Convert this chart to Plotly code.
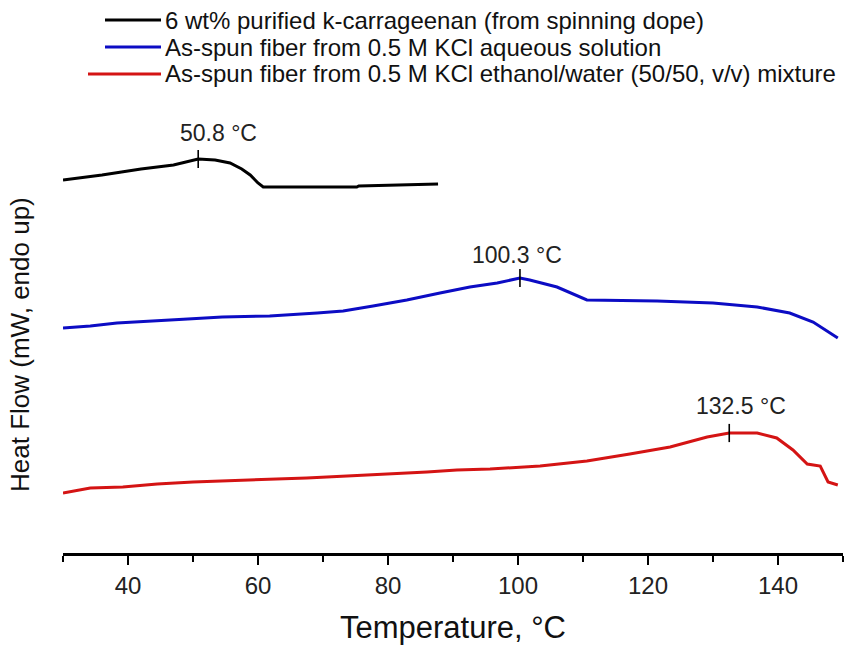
import plotly.graph_objects as go

# DSC heating scans (temperature in °C, heat flow in mW, endo up, curves offset)
temp_dope = [30, 36, 42, 47, 50.8, 53.4, 55.7, 57.5, 58.8, 60.0, 60.8, 62, 75.2, 75.5, 87.7]
hf_dope = [3.73, 3.78, 3.84, 3.88, 3.94, 3.93, 3.90, 3.84, 3.78, 3.70, 3.66, 3.66, 3.66, 3.67, 3.69]

temp_aq = [30, 34.2, 38.3, 42.9, 49.2, 54.5, 61.8, 69.1, 73.1, 77.7, 82.9, 88, 92.6, 96.8,
           100.3, 101.8, 106, 110.6, 121.4, 130, 136.8, 141.8, 145.4, 149.2]
hf_aq = [2.25, 2.27, 2.30, 2.32, 2.34, 2.36, 2.37, 2.40, 2.42, 2.47, 2.53, 2.60, 2.66, 2.70,
         2.75, 2.73, 2.66, 2.53, 2.52, 2.50, 2.46, 2.40, 2.31, 2.15]

temp_eth = [30, 34.2, 39.2, 44.5, 50, 59.2, 67.5, 73.7, 80.3, 86, 90.6, 95.7, 103.4, 110.6,
            117.2, 123.4, 129.1, 132.5, 136.8, 139.8, 142.3, 144.5, 146.5, 147.7, 149.2]
hf_eth = [0.60, 0.65, 0.66, 0.69, 0.71, 0.73, 0.75, 0.77, 0.79, 0.81, 0.83, 0.84, 0.87, 0.92,
          0.99, 1.06, 1.16, 1.20, 1.20, 1.15, 1.03, 0.89, 0.87, 0.71, 0.68]

series_names = [
    "6 wt% purified k-carrageenan (from spinning dope)",
    "As-spun fiber from 0.5 M KCl aqueous solution",
    "As-spun fiber from 0.5 M KCl ethanol/water (50/50, v/v) mixture",
]
series_colors = ["#000000", "#0c0cc4", "#d41414"]

# peak temperatures marked on each curve
peak_temps = [50.8, 100.3, 132.5]
peak_labels = ["50.8 °C", "100.3 °C", "132.5 °C"]

x_ticks = [40, 60, 80, 100, 120, 140]

curves = [(temp_dope, hf_dope), (temp_aq, hf_aq), (temp_eth, hf_eth)]

FONT = "Liberation Sans, Arial, sans-serif"

# plot area geometry (pixels)
W, H = 849, 645
L, R, T, B = 63, 6, 100, 92
PW, PH = W - L - R, H - T - B


def px(xp):
    return (xp - L) / PW


def py(yp):
    return (H - B - yp) / PH


fig = go.Figure()

for (tx, hy), name, col in zip(curves, series_names, series_colors):
    fig.add_trace(go.Scatter(x=tx, y=hy, mode="lines", name=name,
                             line=dict(color=col, width=3), showlegend=False))

# peak markers with labels
label_shift = [(20, 26), (-3, 23), (12, 27)]
for (tx, hy), pt, lab, (dx, dy) in zip(curves, peak_temps, peak_labels, label_shift):
    pv = hy[tx.index(pt)]
    fig.add_trace(go.Scatter(x=[pt], y=[pv], mode="markers", showlegend=False,
                             marker=dict(symbol="line-ns", size=13,
                                         line=dict(color="#000000", width=1.6))))
    fig.add_annotation(x=pt, y=pv, text=lab, showarrow=False, xshift=dx, yshift=dy,
                       font=dict(family=FONT, size=23, color="#222222"))

# legend drawn as line samples with text beside them
leg_rows = [20, 47, 74]
leg_starts = [105, 105, 88]
for name, col, yr, xs in zip(series_names, series_colors, leg_rows, leg_starts):
    fig.add_shape(type="line", xref="paper", yref="paper",
                  x0=px(xs), x1=px(161), y0=py(yr), y1=py(yr),
                  line=dict(color=col, width=3))
    fig.add_annotation(xref="paper", yref="paper", x=px(163), y=py(yr),
                       xanchor="left", yanchor="middle", showarrow=False, text=name,
                       font=dict(family=FONT, size=24, color="#111111"))

# y-axis title
fig.add_annotation(xref="paper", yref="paper", x=px(20), y=py(345), text="Heat Flow (mW, endo up)",
                   textangle=-90, showarrow=False, xanchor="center", yanchor="middle",
                   font=dict(family=FONT, size=26, color="#111111"))

fig.update_layout(
    width=W, height=H,
    margin=dict(l=L, r=R, t=T, b=B),
    paper_bgcolor="white", plot_bgcolor="white",
    showlegend=False,
    font=dict(family=FONT, color="#111111"),
    xaxis=dict(
        range=[30, 150], tickvals=x_ticks, ticktext=[str(v) for v in x_ticks],
        showline=True, linecolor="black", linewidth=2.5,
        ticks="outside", ticklen=9, tickwidth=2.2, tickcolor="black",
        minor=dict(ticks="outside", ticklen=6, tickwidth=2.2, tickcolor="black",
                   tickvals=[30, 50, 70, 90, 110, 130, 150]),
        showgrid=False, zeroline=False,
        tickfont=dict(family=FONT, size=24, color="#222222"),
        title=dict(text="Temperature, °C", font=dict(family=FONT, size=31, color="#111111"),
                   standoff=19),
    ),
    yaxis=dict(range=[0, 4.53], visible=False, showgrid=False, zeroline=False),
)

fig.write_html("out.html")
